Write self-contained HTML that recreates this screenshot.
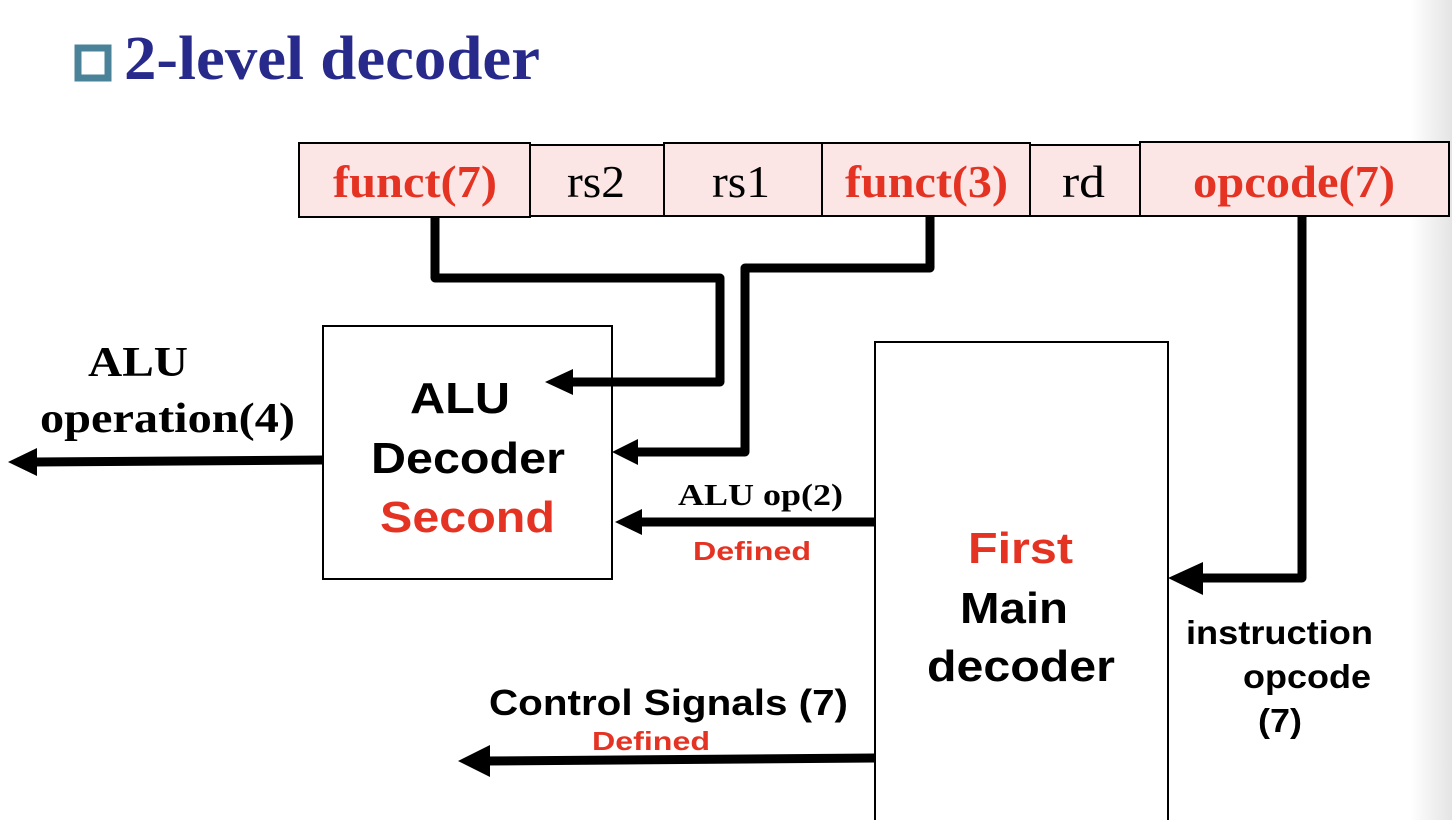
<!DOCTYPE html>
<html><head><style>
body{margin:0;width:1452px;height:820px;overflow:hidden;background:#fff;}
svg{display:block}
</style></head><body>
<svg width="1452" height="820" xmlns="http://www.w3.org/2000/svg">
<defs>
<linearGradient id="g" x1="0" x2="1"><stop offset="0" stop-color="#fff"/><stop offset="1" stop-color="#e4e4e4"/></linearGradient>
</defs>
<rect x="1410" y="0" width="42" height="820" fill="url(#g)"/>
<rect x="78" y="48" width="30" height="30" fill="none" stroke="#4a8399" stroke-width="7"/>
<text x="124" y="79" font-family="Liberation Serif" font-weight="bold" font-size="62" fill="#272a8a" textLength="416" lengthAdjust="spacingAndGlyphs">2-level decoder</text>
<g stroke="#000" stroke-width="2" fill="#fbe5e5">
<rect x="299" y="143" width="231" height="74"/>
<rect x="530" y="145" width="134" height="71"/>
<rect x="664" y="143" width="158" height="73"/>
<rect x="822" y="143" width="208" height="73"/>
<rect x="1030" y="145" width="110" height="71"/>
<rect x="1140" y="142" width="309" height="74"/>
</g>
<g font-family="Liberation Serif" font-size="46" lengthAdjust="spacingAndGlyphs">
<text x="333" y="197" fill="#e53323" font-weight="bold" textLength="164" lengthAdjust="spacingAndGlyphs">funct(7)</text>
<text x="567" y="197" textLength="58" lengthAdjust="spacingAndGlyphs">rs2</text>
<text x="712" y="197" textLength="58" lengthAdjust="spacingAndGlyphs">rs1</text>
<text x="845" y="197" fill="#e53323" font-weight="bold" textLength="163" lengthAdjust="spacingAndGlyphs">funct(3)</text>
<text x="1062" y="197" textLength="43" lengthAdjust="spacingAndGlyphs">rd</text>
<text x="1193" y="197" fill="#e53323" font-weight="bold" textLength="202" lengthAdjust="spacingAndGlyphs">opcode(7)</text>
</g>
<rect x="323" y="326" width="289" height="253" fill="none" stroke="#000" stroke-width="2"/>
<rect x="875" y="342" width="293" height="490" fill="none" stroke="#000" stroke-width="2"/>
<g fill="none" stroke="#000" stroke-width="9" stroke-linejoin="round">
<polyline points="435,217 435,278 720,278 720,382 570,382"/>
<polyline points="930,216 930,268 745,268 745,452 636,452"/>
<line x1="875" y1="522" x2="640" y2="522"/>
<polyline points="1302,216 1302,578 1195,578"/>
<line x1="323" y1="460" x2="35" y2="462"/>
<line x1="875" y1="758" x2="485" y2="761"/>
</g>
<g fill="#000">
<polygon points="545,382 573,369 573,395"/>
<polygon points="612,452 638,439 638,465"/>
<polygon points="615,522 642,509 642,535"/>
<polygon points="1168,578 1203,562 1203,595"/>
<polygon points="8,462 37,448 37,476"/>
<polygon points="458,761 490,745 490,777"/>
</g>
<g font-family="Liberation Sans" font-weight="bold">
<text x="410" y="413" font-size="44" textLength="100" lengthAdjust="spacingAndGlyphs">ALU</text>
<text x="371" y="473" font-size="44" textLength="194" lengthAdjust="spacingAndGlyphs">Decoder</text>
<text x="380" y="532" font-size="44" fill="#e53323" textLength="175" lengthAdjust="spacingAndGlyphs">Second</text>
<text x="968" y="563" font-size="44" fill="#e53323" textLength="105" lengthAdjust="spacingAndGlyphs">First</text>
<text x="960" y="623" font-size="44" textLength="108" lengthAdjust="spacingAndGlyphs">Main</text>
<text x="927" y="681" font-size="44" textLength="188" lengthAdjust="spacingAndGlyphs">decoder</text>
<text x="693" y="560" font-size="26" fill="#e53323" textLength="118" lengthAdjust="spacingAndGlyphs">Defined</text>
<text x="489" y="715" font-size="36" textLength="359" lengthAdjust="spacingAndGlyphs">Control Signals (7)</text>
<text x="592" y="750" font-size="26" fill="#e53323" textLength="118" lengthAdjust="spacingAndGlyphs">Defined</text>
<text x="1186" y="644" font-size="33" textLength="187" lengthAdjust="spacingAndGlyphs">instruction</text>
<text x="1243" y="688" font-size="33" textLength="128" lengthAdjust="spacingAndGlyphs">opcode</text>
<text x="1258" y="732" font-size="33" textLength="44" lengthAdjust="spacingAndGlyphs">(7)</text>
</g>
<g font-family="Liberation Serif" font-weight="bold">
<text x="88" y="376" font-size="42" textLength="100" lengthAdjust="spacingAndGlyphs">ALU</text>
<text x="40" y="432" font-size="42" textLength="255" lengthAdjust="spacingAndGlyphs">operation(4)</text>
<text x="678" y="505" font-size="31" textLength="165" lengthAdjust="spacingAndGlyphs">ALU op(2)</text>
</g>
</svg>
</body></html>
